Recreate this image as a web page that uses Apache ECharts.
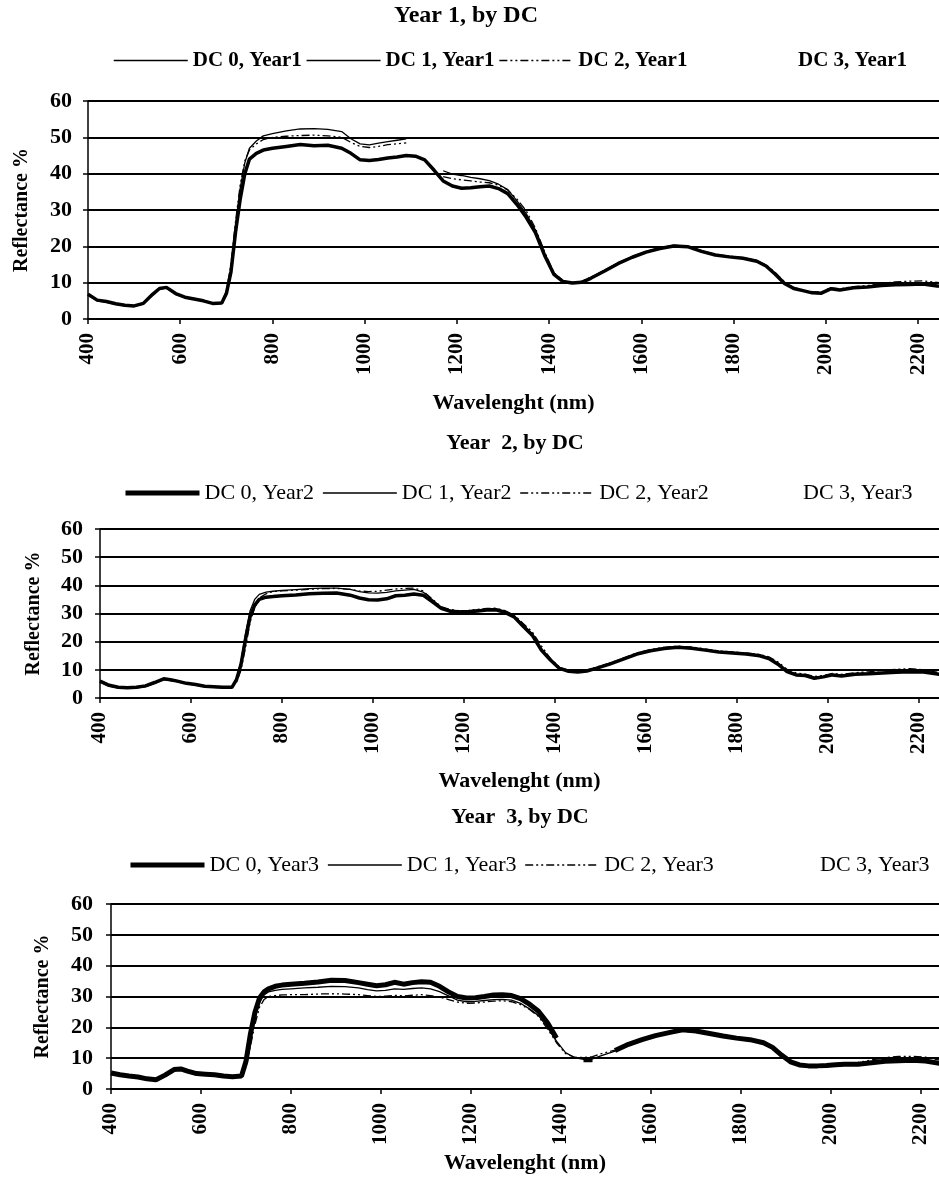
<!DOCTYPE html>
<html>
<head>
<meta charset="utf-8">
<script src="https://cdn.jsdelivr.net/npm/echarts@6/dist/echarts.min.js"></script>
<style>
  html, body { margin: 0; padding: 0; background: #fff; }
  #chart { width: 939px; height: 1180px; }
</style>
</head>
<body>
<div id="chart"></div>
<script>
// Wavelength sampling (nm), shared by every spectrum
const wavelengths = [
  400, 420, 440, 460, 480, 500, 520, 540, 555, 570, 590, 610, 630, 650, 670, 690,
  700, 710, 720, 730, 740, 750, 765, 780, 800, 830, 860, 890, 920, 950,
  970, 990, 1010, 1030, 1050, 1070, 1090, 1110, 1130, 1150, 1170, 1190, 1210, 1230, 1250, 1270, 1290, 1310, 1330, 1350, 1370, 1390, 1410, 1430, 1450, 1470, 1490,
  1520, 1550, 1580, 1610, 1640, 1670, 1700, 1730, 1760, 1790, 1820, 1850, 1870, 1890, 1910, 1930, 1950, 1970, 1990, 2010, 2030, 2060, 2090, 2120, 2150, 2180, 2210, 2245
];

// Reflectance (%) — Year 1
const year1Dc0 = [
  6.8, 5.2, 4.8, 4.2, 3.8, 3.6, 4.3, 6.8, 8.4, 8.7, 7.0, 6.0, 5.5, 5.0, 4.3, 4.4,
  7.0, 13, 24, 33, 40, 44, 45.6, 46.5, 47.0, 47.5, 48.0, 47.7, 47.8, 47.0,
  45.6, 43.8, 43.6, 43.9, 44.3, 44.6, 45.0, 44.8, 43.8, 41.0, 38.0, 36.6, 36.0, 36.1, 36.4, 36.6, 35.9, 34.5, 31.5, 28.0, 23.8, 17.5, 12.3, 10.3, 9.9, 10.1, 11.2,
  13.2, 15.3, 17.0, 18.4, 19.4, 20.1, 19.9, 18.6, 17.6, 17.1, 16.7, 15.9, 14.6, 12.3, 9.8, 8.4, 7.8, 7.2, 7.1, 8.3, 8.0, 8.6, 8.8, 9.2, 9.4, 9.5, 9.6, 9.0
];
const year1Dc1 = [
  6.6, 5.0, 4.6, 4.0, 3.6, 3.5, 4.1, 6.5, 8.2, 8.5, 6.8, 5.9, 5.4, 4.9, 4.2, 4.3,
  7.5, 14, 26, 36, 43, 47, 49, 50.4, 51.0, 51.8, 52.3, 52.4, 52.2, 51.6,
  49.6, 48.2, 47.9, 48.4, 48.8, 49.2, 49.6, null, null, null, 40.8, 39.9, 39.5, 39.0, 38.6, 38.1, 37.1, 35.6, 32.5, 29.0, 24.5, 18.0, 12.5, 10.4, 10.0, 10.2, 11.4,
  13.4, 15.5, 17.2, 18.6, 19.6, 20.3, 20.0, 18.8, 17.8, 17.3, 16.9, 16.1, 14.8, 12.5, 10.0, 8.5, 7.9, 7.3, 7.2, 8.5, 8.1, 8.7, 8.9, 9.3, 9.5, 9.7, 9.8, 9.2
];
const year1Dc2 = [
  6.9, 5.3, 4.9, 4.3, 3.9, 3.7, 4.4, 6.9, 8.5, 8.8, 7.1, 6.1, 5.6, 5.1, 4.4, 4.6,
  7.8, 15, 27, 37, 43.5, 46.5, 48.2, 49.4, 50.0, 50.3, 50.5, 50.6, 50.4, 50.0,
  48.6, 47.5, 47.2, 47.5, 48.0, 48.2, 48.5, null, null, null, 39.2, 38.6, 38.3, 38.0, 37.7, 37.5, 36.8, 35.5, 33.0, 29.8, 25.0, 18.5, 12.8, 10.5, 10.1, 10.3, 11.5,
  13.3, 15.4, 17.1, 18.5, 19.5, 20.2, 19.9, 18.7, 17.7, 17.2, 16.8, 16.0, 14.9, 12.8, 10.2, 8.7, 8.0, 7.5, 7.4, 8.6, 8.3, 8.9, 9.2, 9.8, 10.2, 10.4, 10.5, 10.0
];
const year1Dc3 = [];

// Reflectance (%) — Year 2
const year2Dc0 = [
  6.0, 4.5, 3.8, 3.6, 3.8, 4.3, 5.5, 6.8, 6.5, 6.0, 5.2, 4.8, 4.2, 4.0, 3.8, 3.8,
  6.5, 12, 21, 29, 33, 35, 35.8, 36.0, 36.3, 36.6, 37.0, 37.2, 37.3, 36.5,
  35.5, 34.9, 34.8, 35.2, 36.3, 36.5, 36.9, 36.5, 34.2, 31.8, 30.8, 30.5, 30.6, 30.9, 31.2, 31.3, 30.4, 28.8, 25.5, 22.3, 17.0, 13.5, 10.5, 9.5, 9.2, 9.6, 10.5,
  12.0, 13.8, 15.6, 16.8, 17.6, 18.0, 17.7, 17.0, 16.3, 16.0, 15.6, 15.0, 14.0, 12.0, 9.4, 8.2, 8.0, 7.0, 7.5, 8.2, 7.8, 8.4, 8.6, 8.9, 9.1, 9.3, 9.2, 8.4
];
const year2Dc1 = [
  5.6, 4.2, 3.6, 3.4, 3.6, 4.0, 5.2, 6.5, 6.2, 5.8, 5.0, 4.6, 4.0, 3.8, 3.6, 3.7,
  7.0, 13, 23, 31, 35, 36.8, 37.6, 37.9, 38.2, 38.5, 38.8, 39.0, 39.0, 38.6,
  37.8, 37.3, 37.2, 37.5, 38.0, 38.3, 38.6, 37.6, 35.0, 32.2, 31.2, 30.9, 31.0, 31.3, 31.6, 31.7, 30.8, 29.2, 26.0, 22.8, 17.6, 13.8, 10.7, 9.7, 9.4, 9.8, 10.7,
  12.2, 14.0, 15.8, 17.0, 17.8, 18.2, 17.9, 17.2, 16.5, 16.2, 15.8, 15.2, 14.2, 12.3, 9.7, 8.5, 8.2, 7.3, 7.7, 8.4, 8.0, 8.6, 8.8, 9.1, 9.3, 9.5, 9.4, 8.6
];
const year2Dc2 = [
  6.2, 4.7, 4.0, 3.7, 3.9, 4.4, 5.6, 7.0, 6.7, 6.1, 5.3, 4.9, 4.3, 4.1, 3.9, 3.9,
  5.5, 10, 18, 27, 32, 35.5, 37.0, 37.8, 38.0, 38.3, 38.6, 38.8, 38.9, 38.6,
  38.0, 37.8, 37.9, 38.3, 38.7, 38.9, 39.0, 38.0, 35.2, 32.4, 31.4, 31.0, 31.1, 31.5, 31.8, 31.9, 31.0, 29.5, 26.5, 23.5, 18.5, 14.0, 10.9, 9.8, 9.5, 9.9, 10.9,
  12.4, 14.2, 16.0, 17.2, 18.0, 18.4, 18.1, 17.4, 16.7, 16.4, 16.0, 15.5, 14.6, 12.8, 10.2, 8.9, 8.5, 7.6, 8.0, 8.7, 8.4, 9.0, 9.3, 9.8, 10.2, 10.4, 10.0, 9.0
];
const year2Dc3 = [];

// Reflectance (%) — Year 3
const year3Dc0 = [
  5.2, 4.6, 4.2, 3.9, 3.3, 3.0, 4.5, 6.3, 6.5, 5.8, 5.0, 4.8, 4.6, 4.2, 4.0, 4.2,
  9, 18, 25, 29.5, 31.5, 32.5, 33.3, 33.7, 34.0, 34.3, 34.7, 35.3, 35.2, 34.5,
  34.0, 33.5, 33.8, 34.6, 34.0, 34.5, 34.8, 34.6, 33.3, 31.5, 30.0, 29.5, 29.6, 30.0, 30.5, 30.6, 30.3, 29.3, 27.5, 25.2, 21.5, 16.5, null, null, 9.5, 9.5, null,
  12.5, 14.5, 16.0, 17.3, 18.3, 19.2, 18.8, 18.0, 17.2, 16.5, 16.0, 15.0, 13.5, 11.0, 8.8, 7.8, 7.5, 7.5, 7.6, 7.9, 8.0, 8.0, 8.5, 9.0, 9.2, 9.3, 9.1, 8.2
];
const year3Dc1 = [
  4.8, 4.3, 3.9, 3.6, 3.1, 2.8, 4.2, 6.0, 6.2, 5.5, 4.8, 4.6, 4.4, 4.0, 3.8, 4.0,
  8, 16, 23, 28, 30.5, 31.5, 32.0, 32.3, 32.5, 32.8, 33.0, 33.3, 33.2, 32.8,
  32.2, 31.8, 32.0, 32.5, 32.3, 32.6, 32.8, 32.5, 31.6, 30.2, 28.8, 28.3, 28.4, 28.7, 29.0, 29.1, 28.8, 27.8, 26.0, 23.8, 20.0, 15.5, 11.8, 10.2, 9.6, 9.8, 10.8,
  12.3, 14.3, 15.8, 17.0, 18.0, 18.8, 18.4, 17.6, 16.8, 16.2, 15.8, 14.8, 13.3, 10.8, 8.6, 7.6, 7.3, 7.3, 7.4, 7.8, 7.9, 7.9, 8.4, 8.8, 9.0, 9.1, 8.9, 8.0
];
const year3Dc2 = [
  5.0, 4.4, 4.0, 3.7, 3.2, 2.9, 4.3, 6.1, 6.3, 5.6, 4.9, 4.7, 4.5, 4.1, 3.9, 4.1,
  7, 14, 21, 26.5, 29.0, 30.0, 30.3, 30.5, 30.6, 30.6, 30.8, 30.9, 30.8, 30.6,
  30.3, 30.0, 30.1, 30.4, 30.2, 30.4, 30.6, 30.3, 29.8, 29.0, 28.2, 27.8, 27.9, 28.2, 28.5, 28.6, 28.3, 27.4, 25.8, 23.5, 19.5, 15.0, 11.5, 10.3, 10.2, 10.5, 11.5,
  12.6, 14.5, 16.0, 17.2, 18.2, 19.0, 18.6, 17.8, 17.0, 16.4, 16.0, 15.1, 13.6, 11.2, 9.0, 8.0, 7.7, 7.7, 7.8, 8.2, 8.4, 8.6, 9.4, 10.2, 10.6, 10.6, 10.3, 9.3
];
const year3Dc3 = [];

// Axis ticks
const xTickStart = 400;
const xTickStep = 200;
const yTickMin = 0;
const yTickMax = 60;
const yTickStep = 10;

// Panel text
const panelTitles = ['Year 1, by DC', 'Year  2, by DC', 'Year  3, by DC'];
const seriesNames = [
  ['DC 0, Year1', 'DC 1, Year1', 'DC 2, Year1', 'DC 3, Year1'],
  ['DC 0, Year2', 'DC 1, Year2', 'DC 2, Year2', 'DC 3, Year3'],
  ['DC 0, Year3', 'DC 1, Year3', 'DC 2, Year3', 'DC 3, Year3']
];
const seriesValues = [
  [year1Dc0, year1Dc1, year1Dc2, year1Dc3],
  [year2Dc0, year2Dc1, year2Dc2, year2Dc3],
  [year3Dc0, year3Dc1, year3Dc2, year3Dc3]
];
const xAxisName = 'Wavelenght (nm)';
const yAxisName = 'Reflectance %';

// Layout of the three stacked panels
const FONT = '"Liberation Serif", "Times New Roman", serif';
const layout = [
  { grid: { left: 88, top: 101, height: 218 }, xMax: 2245, title: [466, 16, 24],
    legendLeft: 108, legendTop: 45, legendGap: 4, dc3Left: 787,
    legendWeight: 'bold', legendSize: 21,
    dc0Width: 3.5, dc0Legend: 1.5, yGap: 56, xGap: 73, yMargin: 16 },
  { grid: { left: 100, top: 529, height: 169 }, xMax: 2244, title: [515, 443, 22],
    legendLeft: 118, legendTop: 477, legendGap: 8, dc3Left: 792,
    legendWeight: 'normal', legendSize: 22,
    dc0Width: 3.5, dc0Legend: 5, yGap: 56, xGap: 72, yMargin: 17 },
  { grid: { left: 111, top: 904, height: 185 }, xMax: 2240, title: [520, 817, 22],
    legendLeft: 123, legendTop: 849, legendGap: 8, dc3Left: 809,
    legendWeight: 'normal', legendSize: 22,
    dc0Width: 5, dc0Legend: 5, yGap: 58, xGap: 63, yMargin: 18 }
];

const toPairs = (vals) => vals.map((v, i) => [wavelengths[i], v]);
const dashDotDot = [8, 3, 2, 3, 2, 3];

const option = {
  backgroundColor: '#fff',
  animation: false,
  color: ['#000'],
  grid: [], xAxis: [], yAxis: [], legend: [], series: [], graphic: []
};

layout.forEach((L, p) => {
  option.grid.push(Object.assign({ right: 0, containLabel: false }, L.grid));

  option.xAxis.push({
    type: 'value', gridIndex: p, min: xTickStart, max: L.xMax, interval: xTickStep,
    name: xAxisName, nameLocation: 'middle', nameGap: L.xGap,
    nameTextStyle: { fontFamily: FONT, fontWeight: 'bold', fontSize: 22, color: '#000' },
    axisLine: { show: true, lineStyle: { color: '#000', width: 2 } },
    axisTick: { show: true, length: 5, lineStyle: { color: '#000', width: 1.5 } },
    axisLabel: { rotate: 90, margin: 14, showMaxLabel: false, fontFamily: FONT,
      fontWeight: 'bold', fontSize: 21, color: '#000', formatter: (v) => String(v) },
    splitLine: { show: false }
  });

  option.yAxis.push({
    type: 'value', gridIndex: p, min: yTickMin, max: yTickMax, interval: yTickStep,
    name: yAxisName, nameLocation: 'middle', nameGap: L.yGap,
    nameTextStyle: { fontFamily: FONT, fontWeight: 'bold', fontSize: 20, color: '#000' },
    axisLine: { show: true, lineStyle: { color: '#000', width: 1.5 } },
    axisTick: { show: true, length: 5, lineStyle: { color: '#000', width: 1.5 } },
    axisLabel: { margin: L.yMargin, fontFamily: FONT, fontWeight: 'bold', fontSize: 22, color: '#000' },
    splitLine: { show: true, lineStyle: { color: '#000', width: 2 } }
  });

  const names = seriesNames[p];
  const vals = seriesValues[p];
  const styles = [
    { width: L.dc0Width, type: 'solid' },
    { width: 1.3, type: 'solid' },
    { width: 1.3, type: dashDotDot },
    { width: 1.3, type: 'solid' }
  ];
  names.forEach((nm, s) => {
    option.series.push({
      type: 'line', name: nm, xAxisIndex: p, yAxisIndex: p,
      data: toPairs(vals[s]), showSymbol: false, symbol: 'none',
      connectNulls: false, silent: true, z: 3 - s, color: '#000',
      lineStyle: { color: '#000', width: styles[s].width, type: styles[s].type }
    });
  });

  const legendText = { fontFamily: FONT, fontWeight: L.legendWeight, fontSize: L.legendSize, color: '#000' };
  option.legend.push({
    left: L.legendLeft, top: L.legendTop, orient: 'horizontal', selectedMode: false,
    itemWidth: 74, itemHeight: 12, itemGap: L.legendGap, textStyle: legendText,
    itemStyle: { opacity: 0 },
    data: [
      { name: names[0], lineStyle: { width: L.dc0Legend, color: '#000' } },
      { name: names[1], lineStyle: { width: 1.5, color: '#000' } },
      { name: names[2], lineStyle: { width: 1.5, color: '#000', type: dashDotDot } }
    ]
  });
  option.legend.push({
    left: L.dc3Left, top: L.legendTop, selectedMode: false,
    itemWidth: 1, itemHeight: 1, textStyle: legendText,
    data: [{ name: names[3], icon: 'none' }]
  });

  option.graphic.push({
    type: 'text', x: L.title[0], y: L.title[1], silent: true,
    style: { text: panelTitles[p], fontFamily: FONT, fontWeight: 'bold', fontSize: L.title[2],
      fill: '#000', textAlign: 'center', textVerticalAlign: 'middle' }
  });
});

const chart = echarts.init(document.getElementById('chart'), null, { renderer: 'canvas' });
chart.setOption(option);
</script>
</body>
</html>
